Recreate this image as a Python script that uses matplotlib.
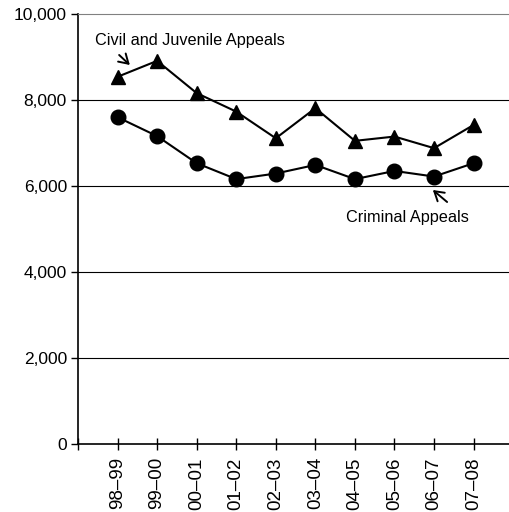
import matplotlib.pyplot as plt
from matplotlib.ticker import FuncFormatter

years = ["98–99", "99–00", "00–01", "01–02", "02–03", "03–04", "04–05", "05–06", "06–07", "07–08"]
civil_juvenile = [8540, 8910, 8160, 7730, 7110, 7810, 7050, 7150, 6880, 7420]
criminal = [7600, 7160, 6530, 6160, 6290, 6490, 6160, 6350, 6220, 6530]

plt.rcParams["font.family"] = ["Liberation Sans", "DejaVu Sans"]

fig = plt.figure(figsize=(5.1, 5.12), dpi=100)
ax = fig.add_axes([78 / 510, 1 - 444 / 512, 1 - 78 / 510, (444 - 14) / 512])

x = list(range(1, len(years) + 1))
ax.plot(x, civil_juvenile, color="black", lw=1.5, marker="^", ms=10.5, zorder=3)
ax.plot(x, criminal, color="black", lw=1.5, marker="o", ms=10.5, zorder=3)

ax.set_ylim(0, 10000)
ax.set_xlim(0, (510 - 78) / 39.56)
ax.set_yticks(range(0, 10001, 2000))
ax.yaxis.set_major_formatter(FuncFormatter(lambda v, p: f"{int(v):,}"))
ax.set_xticks([0] + x)
ax.set_xticklabels([""] + years, rotation=90)

for y in range(2000, 10000, 2000):
    ax.axhline(y, color="black", lw=0.8, zorder=1)

ax.spines["right"].set_visible(False)
ax.spines["top"].set_color("#808080")
ax.spines["left"].set_linewidth(1.2)
ax.spines["bottom"].set_linewidth(1.2)
ax.tick_params(axis="x", direction="inout", length=9, width=1, labelsize=13.5, pad=5)
ax.tick_params(axis="y", direction="out", length=5, width=1, labelsize=12.5, pad=3)

arrow = dict(arrowstyle="->, head_length=0.65, head_width=0.4", color="black", lw=1.4,
             shrinkA=0, shrinkB=0)
ax.annotate("", xy=(1.31, 8814), xytext=(1.04, 9047), arrowprops=arrow)
ax.text(2.83, 9395, "Civil and Juvenile Appeals", ha="center", va="center", fontsize=11.7)
ax.annotate("", xy=(8.97, 5907), xytext=(9.33, 5628), arrowprops=arrow)
ax.text(8.32, 5256, "Criminal Appeals", ha="center", va="center", fontsize=11.7)

fig.savefig("out.png", dpi=100)
plt.close(fig)
